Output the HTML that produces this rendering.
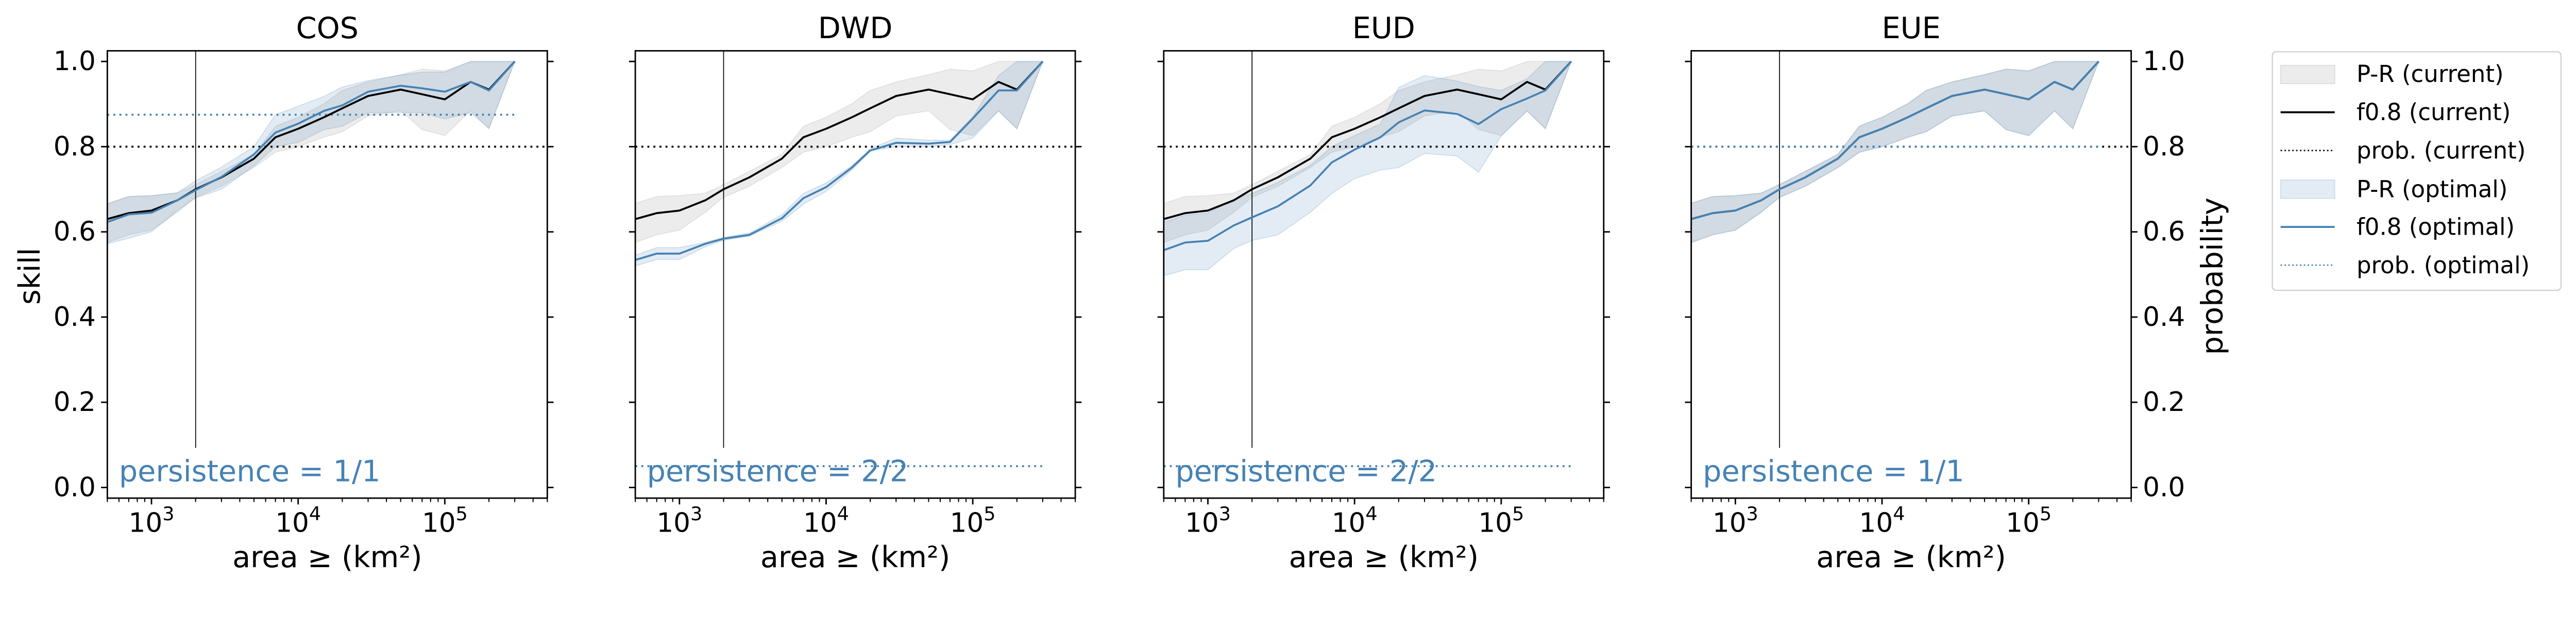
<!DOCTYPE html>
<html><head><meta charset="utf-8"><style>
html,body{margin:0;padding:0;background:#fff;overflow:hidden}
svg{display:block;width:100vw;height:auto;font-family:"DejaVu Sans","Liberation Sans",sans-serif}
</style></head><body>
<svg id="fig" viewBox="0 0 5328 1218" preserveAspectRatio="xMinYMin meet" xmlns="http://www.w3.org/2000/svg">
<g id="legend">
<rect x="4700" y="107" width="597" height="493" rx="8" fill="#fff" stroke="#d0d0d0" stroke-width="2.5"/>
<g><rect x="4717" y="135" width="112" height="38" fill="rgba(128,128,128,0.15)" stroke="rgba(128,128,128,0.2)" stroke-width="2"/><text x="4874" y="153" font-size="48" dominant-baseline="central">P-R (current)</text></g>
<g><line x1="4717" x2="4829" y1="232" y2="232" stroke="#000" stroke-width="4"/><text x="4874" y="232" font-size="48" dominant-baseline="central">f0.8 (current)</text></g>
<g><line x1="4717" x2="4829" y1="311" y2="311" stroke="#000" stroke-width="3" stroke-dasharray="3 5"/><text x="4874" y="311" font-size="48" dominant-baseline="central">prob. (current)</text></g>
<g><rect x="4717" y="372" width="112" height="38" fill="rgba(70,130,180,0.15)" stroke="rgba(70,130,180,0.2)" stroke-width="2"/><text x="4874" y="391" font-size="48" dominant-baseline="central">P-R (optimal)</text></g>
<g><line x1="4717" x2="4829" y1="469" y2="469" stroke="#4682b4" stroke-width="4"/><text x="4874" y="469" font-size="48" dominant-baseline="central">f0.8 (optimal)</text></g>
<g><line x1="4717" x2="4829" y1="548" y2="548" stroke="#4682b4" stroke-width="3" stroke-dasharray="3 5"/><text x="4874" y="548" font-size="48" dominant-baseline="central">prob. (optimal)</text></g>
</g>
</svg>
<script>
const areas=[500,700,1000,1500,2000,3000,5000,7000,10000,15000,20000,30000,50000,70000,100000,150000,200000,300000];
const curLine=[.63,.644,.65,.674,.70,.728,.772,.822,.842,.869,.89,.919,.934,.923,.911,.952,.934,1];
const curHi=[.667,.683,.685,.691,.711,.742,.782,.848,.869,.901,.932,.952,.969,.982,.978,1,1,1];
const curLo=[.575,.593,.604,.646,.681,.707,.751,.787,.8,.822,.835,.872,.884,.84,.826,.884,.842,1];
const cosOpt=[.623,.641,.645,.674,.698,.729,.782,.833,.854,.884,.897,.929,.943,.937,.929,.952,.932,1];
const cosOptHi=[.665,.683,.685,.692,.72,.752,.80,.875,.895,.918,.94,.955,.968,.975,.975,1,1,1];
const cosOptLo=[.572,.585,.6,.65,.68,.70,.755,.80,.81,.84,.848,.88,.88,.88,.865,.88,.843,1];
const dwdOpt=[.534,.549,.549,.572,.584,.593,.632,.679,.705,.751,.791,.809,.807,.811,.866,.932,.932,1];
const dwdOptHi=[.545,.563,.563,.575,.587,.597,.64,.69,.715,.755,.795,.82,.815,.815,.87,.967,1,1];
const dwdOptLo=[.52,.535,.535,.565,.58,.59,.625,.665,.695,.745,.79,.80,.80,.805,.82,.884,.842,1];
const eudOpt=[.557,.575,.579,.615,.634,.66,.709,.763,.793,.822,.857,.885,.877,.853,.888,.913,.932,1];
const eudOptHi=[.623,.639,.644,.676,.69,.716,.756,.8,.826,.853,.939,.967,.954,.941,.932,.959,1,1];
const eudOptLo=[.497,.511,.511,.561,.58,.593,.646,.69,.725,.745,.751,.784,.778,.74,.825,.884,.842,1];
const panelTitles=["COS","DWD","EUD","EUE"];
const probCurrent=[0.8,0.8,0.8,0.8];
const probOptimal=[0.875,0.05,0.05,0.8];
const persistenceText=["persistence = 1/1","persistence = 2/2","persistence = 2/2","persistence = 1/1"];
const yTicks=[0,0.2,0.4,0.6,0.8,1.0];
const yTickLabels=["0.0","0.2","0.4","0.6","0.8","1.0"];
const xMajor=[1000,10000,100000];
const xMajorExp=["3","4","5"];
const areaThreshold=2000;
const xMin=500,xMax=500000,yMin=-0.025,yMax=1.025;

const optLines=[cosOpt,dwdOpt,eudOpt,curLine];
const optHis=[cosOptHi,dwdOptHi,eudOptHi,curHi];
const optLos=[cosOptLo,dwdOptLo,eudOptLo,curLo];

const NS="http://www.w3.org/2000/svg";
const svg=document.getElementById('fig');
const legendEl=document.getElementById('legend');
const lefts=[222,1314,2407,3498];
const W=910, TOP=105, BOT=1029.5;
function mk(tag,attrs){const e=document.createElementNS(NS,tag);for(const k in attrs)e.setAttribute(k,attrs[k]);svg.insertBefore(e,legendEl);return e;}
function mkIn(tag,attrs,parent){const e=document.createElementNS(NS,tag);for(const k in attrs)e.setAttribute(k,attrs[k]);parent.appendChild(e);return e;}

for(let p=0;p<4;p++){
  const L=lefts[p];
  const sx=v=>L+(Math.log10(v)-Math.log10(xMin))/(Math.log10(xMax)-Math.log10(xMin))*W;
  const sy=v=>BOT-(v-yMin)/(yMax-yMin)*(BOT-TOP);
  const g=mk('g',{});
  
  
  const defs=mkIn('defs',{},g);
  const cp=mkIn('clipPath',{id:'clip'+p},defs);
  mkIn('rect',{x:L,y:TOP,width:W,height:BOT-TOP},cp);
  const plot=mkIn('g',{'clip-path':'url(#clip'+p+')'},g);
  
  
  function band(hi,lo,fill,stroke){
    let d='M'+areas.map((a,i)=>sx(a)+','+sy(hi[i])).join('L');
    for(let i=areas.length-1;i>=0;i--)d+='L'+sx(areas[i])+','+sy(lo[i]);
    return mkIn('path',{d:d+'Z',fill:fill,stroke:stroke,'stroke-width':2},plot);
  }
  function line(vals,color){
    return mkIn('polyline',{points:areas.map((a,i)=>sx(a)+','+sy(vals[i])).join(' '),fill:'none',stroke:color,'stroke-width':4,'stroke-linejoin':'round'},plot);
  }
  const b1=band(curHi,curLo,'rgba(128,128,128,0.15)','rgba(128,128,128,0.15)');
  
  
  const b2=band(optHis[p],optLos[p],'rgba(70,130,180,0.15)','rgba(70,130,180,0.2)');
  
  
  const pc=mkIn('line',{x1:L,x2:L+W,y1:sy(probCurrent[p]),y2:sy(probCurrent[p]),stroke:'#000','stroke-width':4,'stroke-dasharray':'4 8.5'},plot);
  
  
  const po=mkIn('line',{x1:sx(areas[0]),x2:sx(areas[areas.length-1]),y1:sy(probOptimal[p]),y2:sy(probOptimal[p]),stroke:'#4682b4','stroke-width':4,'stroke-dasharray':'4 8.5'},plot);
  
  
  const vl=mkIn('line',{x1:sx(areaThreshold),x2:sx(areaThreshold),y1:TOP,y2:sy(0.093),stroke:'#000','stroke-width':1.8},plot);
  
  
  const l1=line(curLine,'#000');
  
  
  const l2=line(optLines[p],'#4682b4');
  
  
  const pt=mkIn('text',{x:L+24,y:995,'font-size':61,fill:'#4682b4'},g);
  pt.textContent=persistenceText[p];
  
  
  const fr=mkIn('rect',{x:L,y:TOP,width:W,height:BOT-TOP,fill:'none',stroke:'#000','stroke-width':3},g);
  
  
  yTicks.forEach((v,i)=>{
    const y=sy(v);
    mkIn('line',{x1:L-13,x2:L,y1:y,y2:y,stroke:'#000','stroke-width':3},g);
    mkIn('line',{x1:L+W,x2:L+W+13,y1:y,y2:y,stroke:'#000','stroke-width':3},g);
    if(p===0){const t=mkIn('text',{x:L-24,y:y,'font-size':55,'text-anchor':'end','dominant-baseline':'central'},g);t.textContent=yTickLabels[i];
      
      }
    if(p===3){const t=mkIn('text',{x:L+W+24,y:y,'font-size':55,'dominant-baseline':'central'},g);t.textContent=yTickLabels[i];
      
      }
  });
  for(let d=2;d<=5;d++)for(let k=2;k<=9;k++){const v=k*Math.pow(10,d);if(v<xMin||v>xMax)continue;
    mkIn('line',{x1:sx(v),x2:sx(v),y1:BOT,y2:BOT+8,stroke:'#000','stroke-width':2.2},g);}
  xMajor.forEach((v,i)=>{
    mkIn('line',{x1:sx(v),x2:sx(v),y1:BOT,y2:BOT+13,stroke:'#000','stroke-width':3},g);
    const t=mkIn('text',{x:sx(v),y:1099,'font-size':55,'text-anchor':'middle'},g);
    
    
    t.appendChild(document.createTextNode('10'));
    const s=mkIn('tspan',{dy:-24,'font-size':39},t);s.textContent=xMajorExp[i];
  });
  const xl=mkIn('text',{x:L+W/2,y:1172,'font-size':61,'text-anchor':'middle'},g);
  xl.textContent='area ≥ (km²)';
  
  
  const ti=mkIn('text',{x:L+W/2,y:79,'font-size':61,'text-anchor':'middle'},g);
  ti.textContent=panelTitles[p];
  
  
}
const yl=mk('text',{x:0,y:0,'font-size':61,'text-anchor':'middle','dominant-baseline':'central',transform:'translate(62,571) rotate(-90)'});
yl.textContent='skill';


const y2=mk('text',{x:0,y:0,'font-size':61,'text-anchor':'middle','dominant-baseline':'central',transform:'translate(4576,571) rotate(-90)'});
y2.textContent='probability';


</script>
</body></html>
